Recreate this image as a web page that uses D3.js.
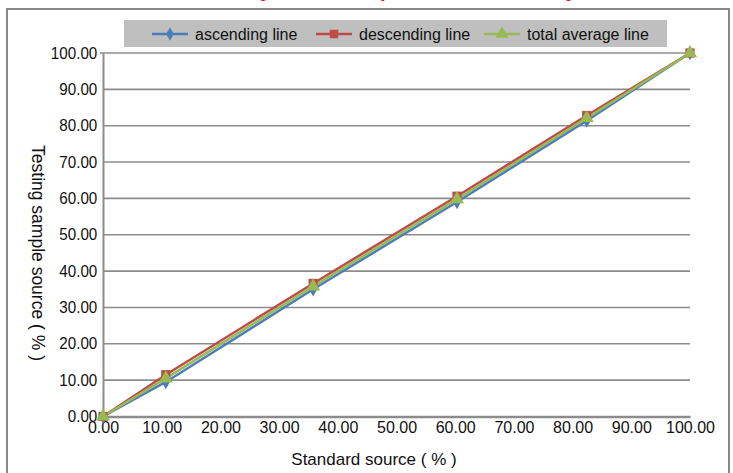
<!DOCTYPE html>
<html><head><meta charset="utf-8">
<script src="https://cdn.jsdelivr.net/npm/d3@7/dist/d3.min.js"></script>
<style>body{margin:0;background:#fff}svg{display:block;font-family:"Liberation Sans",Arial,sans-serif}</style>
</head><body><svg id="c" width="733" height="473"></svg>
<script>
const standard = [0, 10.7, 35.8, 60.3, 82.4, 100];
const ascending = [0, 9.5, 35.0, 59.0, 81.4, 100];
const descending = [0, 11.5, 36.6, 60.6, 82.8, 100];
const average = [0, 10.5, 35.8, 59.8, 82.1, 100];
const xTicks = [0,10,20,30,40,50,60,70,80,90,100];
const yTicks = [0,10,20,30,40,50,60,70,80,90,100];
const seriesNames = ["ascending line","descending line","total average line"];

const svg = d3.select("#c");
const x = d3.scaleLinear().domain([0,100]).range([103,690]);
const y = d3.scaleLinear().domain([0,100]).range([416.5,53]);
const fmt = d3.format(".2f");
const gridColor = "#8c8c8c";
const FONT = "Liberation Sans, Arial, sans-serif";

// partially visible title (cut off at top, as in the reference)
const title = svg.append("text").attr("fill","#e8141b").attr("font-weight","bold")
  .attr("font-size",20.5).attr("y",-3).text("Linearity of the sample source accuracy");
const tn = title.node(), s = title.text();
const i1 = s.indexOf("y");
const off = tn.getSubStringLength(0,i1) + tn.getSubStringLength(i1,1)/2;
title.attr("x", 266 - off);

// outer frame
svg.append("path").attr("d","M7,480V9H729V480").attr("fill","none").attr("stroke","#888").attr("stroke-width",2);

// grid
svg.append("g").selectAll("line").data(yTicks.filter(d=>d>0)).join("line")
  .attr("x1",x(0)).attr("x2",x(100)).attr("y1",d=>y(d)).attr("y2",d=>y(d))
  .attr("stroke",gridColor).attr("stroke-width",1.6);
// axes
const yAx = svg.append("g").attr("transform",`translate(${x(0)},0)`)
  .call(d3.axisLeft(y).tickValues(yTicks).tickFormat(fmt).tickSize(0).tickPadding(6));
yAx.select(".domain").attr("stroke",gridColor).attr("stroke-width",2);
yAx.selectAll("text").attr("font-size",16).attr("fill","#111").attr("font-family",FONT)
  .attr("transform","scale(0.95,1)");
const xAx = svg.append("g").attr("transform",`translate(0,${y(0)})`)
  .call(d3.axisBottom(x).tickValues(xTicks).tickFormat(fmt).tickSize(0).tickPadding(5));
xAx.select(".domain").attr("stroke",gridColor).attr("stroke-width",2.4);
xAx.selectAll("text").attr("font-size",16).attr("fill","#111").attr("font-family",FONT);
svg.append("line").attr("x1",x(0)-3).attr("x2",x(0)).attr("y1",y(100)).attr("y2",y(100)).attr("stroke",gridColor).attr("stroke-width",1.6);

// titles
svg.append("text").attr("x",374).attr("y",465).attr("text-anchor","middle").attr("font-size",17).attr("fill","#111").text("Standard source ( % )");
svg.append("text").attr("transform","translate(32,253) rotate(90)").attr("text-anchor","middle").attr("font-size",17.5).attr("fill","#111").text("Testing sample source ( % )");

// series
const series = [
  {name:seriesNames[0], vals:ascending, color:"#4a7ebb", sym:d3.symbolDiamond, size:60},
  {name:seriesNames[1], vals:descending, color:"#be4b48", sym:d3.symbolSquare, size:85},
  {name:seriesNames[2], vals:average, color:"#98b954", sym:d3.symbolTriangle, size:85}
];
const line = d3.line().x((d,i)=>x(standard[i])).y(d=>y(d));
series.forEach(s=>{
  svg.append("path").attr("d",line(s.vals)).attr("fill","none").attr("stroke",s.color).attr("stroke-width",2.5);
});
series.forEach(s=>{
  svg.append("g").selectAll("path").data(s.vals).join("path")
    .attr("transform",(d,i)=>`translate(${x(standard[i])},${y(d)})`)
    .attr("d",d3.symbol().type(s.sym).size(s.size)).attr("fill",s.color);
});

// legend
svg.append("rect").attr("x",124).attr("y",20).attr("width",543).attr("height",27).attr("fill","#bfbfbf");
const legX = [152, 316, 484];
series.forEach((s,i)=>{
  const g = svg.append("g").attr("transform",`translate(${legX[i]},34)`);
  g.append("line").attr("x1",0).attr("x2",36).attr("stroke",s.color).attr("stroke-width",2.5);
  g.append("path").attr("transform","translate(18,0)").attr("d",d3.symbol().type(s.sym).size(s.size*0.85)).attr("fill",s.color);
  g.append("text").attr("x",43).attr("y",6).attr("font-size",16).attr("fill","#111").text(s.name);
});
</script></body></html>
